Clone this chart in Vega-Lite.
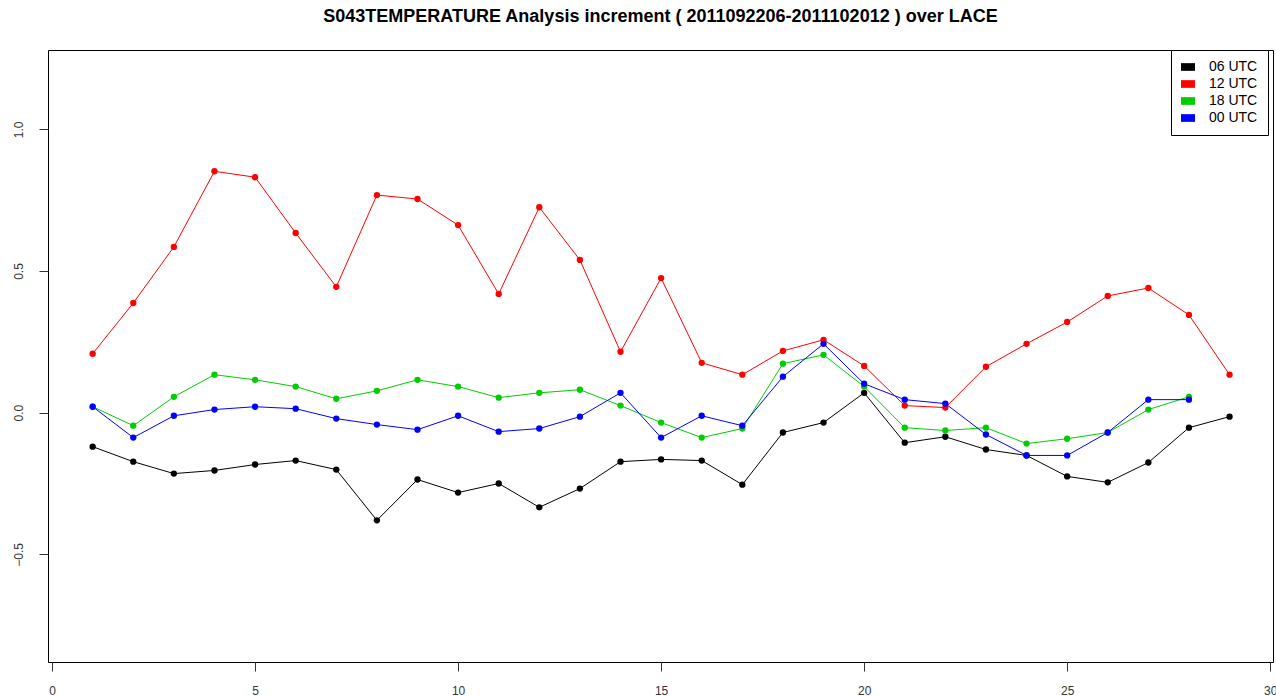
{
  "$schema": "https://vega.github.io/schema/vega-lite/v6.json",
  "width": 1225,
  "height": 612,
  "autosize": {"type": "none"},
  "padding": {"left": 48, "top": 50, "right": 3, "bottom": 34},
  "background": "white",
  "title": {
    "text": "S043TEMPERATURE Analysis increment ( 2011092206-2011102012 ) over LACE",
    "font": "Liberation Sans",
    "fontSize": 18,
    "fontWeight": "bold",
    "color": "#000000",
    "anchor": "middle",
    "offset": 15,
    "baseline": "middle"
  },
  "config": {
    "view": {"stroke": "#000000", "strokeWidth": 1},
    "axis": {
      "labelFont": "Liberation Sans",
      "labelFontSize": 12,
      "labelColor": "#333333",
      "tickColor": "#333333",
      "domain": false,
      "grid": false,
      "title": null
    }
  },
  "data": {
    "values": [
      {"day": 1, "run": "06 UTC", "v": -0.120}, {"day": 2, "run": "06 UTC", "v": -0.173}, {"day": 3, "run": "06 UTC", "v": -0.215}, {"day": 4, "run": "06 UTC", "v": -0.204}, {"day": 5, "run": "06 UTC", "v": -0.183}, {"day": 6, "run": "06 UTC", "v": -0.169}, {"day": 7, "run": "06 UTC", "v": -0.201}, {"day": 8, "run": "06 UTC", "v": -0.380}, {"day": 9, "run": "06 UTC", "v": -0.236}, {"day": 10, "run": "06 UTC", "v": -0.282}, {"day": 11, "run": "06 UTC", "v": -0.250}, {"day": 12, "run": "06 UTC", "v": -0.334}, {"day": 13, "run": "06 UTC", "v": -0.268}, {"day": 14, "run": "06 UTC", "v": -0.173}, {"day": 15, "run": "06 UTC", "v": -0.165}, {"day": 16, "run": "06 UTC", "v": -0.169}, {"day": 17, "run": "06 UTC", "v": -0.254}, {"day": 18, "run": "06 UTC", "v": -0.070}, {"day": 19, "run": "06 UTC", "v": -0.035}, {"day": 20, "run": "06 UTC", "v": 0.070}, {"day": 21, "run": "06 UTC", "v": -0.106}, {"day": 22, "run": "06 UTC", "v": -0.085}, {"day": 23, "run": "06 UTC", "v": -0.130}, {"day": 24, "run": "06 UTC", "v": -0.151}, {"day": 25, "run": "06 UTC", "v": -0.225}, {"day": 26, "run": "06 UTC", "v": -0.246}, {"day": 27, "run": "06 UTC", "v": -0.176}, {"day": 28, "run": "06 UTC", "v": -0.053}, {"day": 29, "run": "06 UTC", "v": -0.014},
      {"day": 1, "run": "12 UTC", "v": 0.208}, {"day": 2, "run": "12 UTC", "v": 0.387}, {"day": 3, "run": "12 UTC", "v": 0.585}, {"day": 4, "run": "12 UTC", "v": 0.852}, {"day": 5, "run": "12 UTC", "v": 0.831}, {"day": 6, "run": "12 UTC", "v": 0.634}, {"day": 7, "run": "12 UTC", "v": 0.444}, {"day": 8, "run": "12 UTC", "v": 0.768}, {"day": 9, "run": "12 UTC", "v": 0.754}, {"day": 10, "run": "12 UTC", "v": 0.662}, {"day": 11, "run": "12 UTC", "v": 0.419}, {"day": 12, "run": "12 UTC", "v": 0.725}, {"day": 13, "run": "12 UTC", "v": 0.539}, {"day": 14, "run": "12 UTC", "v": 0.215}, {"day": 15, "run": "12 UTC", "v": 0.475}, {"day": 16, "run": "12 UTC", "v": 0.176}, {"day": 17, "run": "12 UTC", "v": 0.134}, {"day": 18, "run": "12 UTC", "v": 0.218}, {"day": 19, "run": "12 UTC", "v": 0.257}, {"day": 20, "run": "12 UTC", "v": 0.165}, {"day": 21, "run": "12 UTC", "v": 0.025}, {"day": 22, "run": "12 UTC", "v": 0.018}, {"day": 23, "run": "12 UTC", "v": 0.162}, {"day": 24, "run": "12 UTC", "v": 0.243}, {"day": 25, "run": "12 UTC", "v": 0.320}, {"day": 26, "run": "12 UTC", "v": 0.412}, {"day": 27, "run": "12 UTC", "v": 0.440}, {"day": 28, "run": "12 UTC", "v": 0.345}, {"day": 29, "run": "12 UTC", "v": 0.134},
      {"day": 1, "run": "18 UTC", "v": 0.021}, {"day": 2, "run": "18 UTC", "v": -0.046}, {"day": 3, "run": "18 UTC", "v": 0.056}, {"day": 4, "run": "18 UTC", "v": 0.134}, {"day": 5, "run": "18 UTC", "v": 0.116}, {"day": 6, "run": "18 UTC", "v": 0.092}, {"day": 7, "run": "18 UTC", "v": 0.049}, {"day": 8, "run": "18 UTC", "v": 0.077}, {"day": 9, "run": "18 UTC", "v": 0.116}, {"day": 10, "run": "18 UTC", "v": 0.092}, {"day": 11, "run": "18 UTC", "v": 0.053}, {"day": 12, "run": "18 UTC", "v": 0.070}, {"day": 13, "run": "18 UTC", "v": 0.081}, {"day": 14, "run": "18 UTC", "v": 0.025}, {"day": 15, "run": "18 UTC", "v": -0.035}, {"day": 16, "run": "18 UTC", "v": -0.088}, {"day": 17, "run": "18 UTC", "v": -0.056}, {"day": 18, "run": "18 UTC", "v": 0.173}, {"day": 19, "run": "18 UTC", "v": 0.204}, {"day": 20, "run": "18 UTC", "v": 0.092}, {"day": 21, "run": "18 UTC", "v": -0.053}, {"day": 22, "run": "18 UTC", "v": -0.063}, {"day": 23, "run": "18 UTC", "v": -0.053}, {"day": 24, "run": "18 UTC", "v": -0.109}, {"day": 25, "run": "18 UTC", "v": -0.092}, {"day": 26, "run": "18 UTC", "v": -0.070}, {"day": 27, "run": "18 UTC", "v": 0.011}, {"day": 28, "run": "18 UTC", "v": 0.056},
      {"day": 1, "run": "00 UTC", "v": 0.021}, {"day": 2, "run": "00 UTC", "v": -0.088}, {"day": 3, "run": "00 UTC", "v": -0.011}, {"day": 4, "run": "00 UTC", "v": 0.011}, {"day": 5, "run": "00 UTC", "v": 0.021}, {"day": 6, "run": "00 UTC", "v": 0.014}, {"day": 7, "run": "00 UTC", "v": -0.021}, {"day": 8, "run": "00 UTC", "v": -0.042}, {"day": 9, "run": "00 UTC", "v": -0.060}, {"day": 10, "run": "00 UTC", "v": -0.011}, {"day": 11, "run": "00 UTC", "v": -0.067}, {"day": 12, "run": "00 UTC", "v": -0.056}, {"day": 13, "run": "00 UTC", "v": -0.014}, {"day": 14, "run": "00 UTC", "v": 0.070}, {"day": 15, "run": "00 UTC", "v": -0.088}, {"day": 16, "run": "00 UTC", "v": -0.011}, {"day": 17, "run": "00 UTC", "v": -0.046}, {"day": 18, "run": "00 UTC", "v": 0.127}, {"day": 19, "run": "00 UTC", "v": 0.243}, {"day": 20, "run": "00 UTC", "v": 0.102}, {"day": 21, "run": "00 UTC", "v": 0.046}, {"day": 22, "run": "00 UTC", "v": 0.032}, {"day": 23, "run": "00 UTC", "v": -0.077}, {"day": 24, "run": "00 UTC", "v": -0.151}, {"day": 25, "run": "00 UTC", "v": -0.151}, {"day": 26, "run": "00 UTC", "v": -0.070}, {"day": 27, "run": "00 UTC", "v": 0.046}, {"day": 28, "run": "00 UTC", "v": 0.046}
    ]
  },
  "encoding": {
    "x": {
      "field": "day",
      "type": "quantitative",
      "scale": {"domain": [-0.1, 30.07], "nice": false, "zero": false},
      "axis": {"values": [0, 5, 10, 15, 20, 25, 30], "tickSize": 9, "labelPadding": 14, "labelFlush": false}
    },
    "y": {
      "field": "v",
      "type": "quantitative",
      "scale": {"domain": [-0.88, 1.28], "nice": false, "zero": false},
      "axis": {"values": [-0.5, 0, 0.5, 1.0], "format": ".1f", "tickSize": 9, "labelAngle": -90, "labelAlign": "center", "labelBaseline": "bottom", "labelPadding": 14}
    },
    "color": {
      "field": "run",
      "type": "nominal",
      "scale": {"domain": ["06 UTC", "12 UTC", "18 UTC", "00 UTC"], "range": ["#000000", "#ff0000", "#00cd00", "#0000ff"]},
      "legend": {
        "title": null,
        "orient": "none",
        "legendX": 1123,
        "legendY": 0,
        "direction": "vertical",
        "fillColor": "white",
        "strokeColor": "#000000",
        "padding": 10,
        "rowPadding": 3,
        "labelFont": "Liberation Sans",
        "labelFontSize": 14,
        "labelColor": "#000000",
        "labelOffset": 14,
        "symbolType": "M-1,-0.55H1V0.55H-1Z",
        "symbolSize": 196,
        "symbolStrokeWidth": 0,
        "symbolOpacity": 1
      }
    }
  },
  "layer": [
    {"mark": {"type": "line", "strokeWidth": 1}},
    {"mark": {"type": "circle", "size": 40, "opacity": 1}}
  ]
}
